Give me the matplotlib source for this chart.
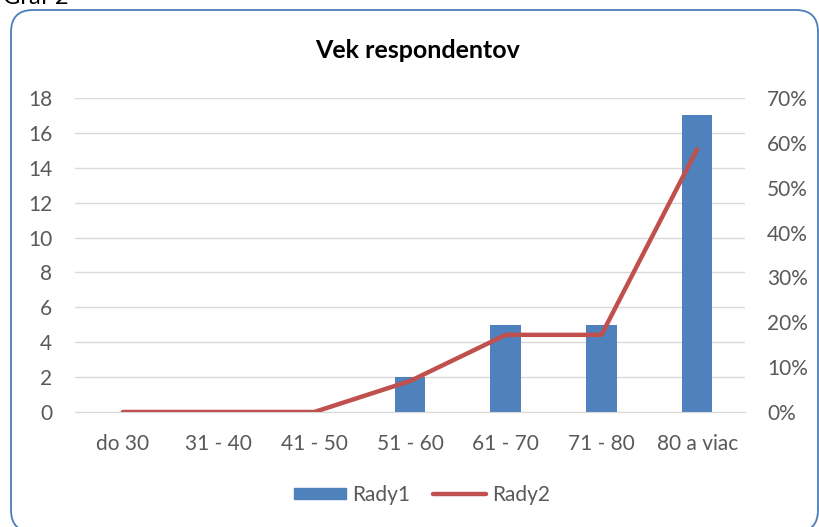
import matplotlib.pyplot as plt
from matplotlib.patches import FancyBboxPatch, Patch
from matplotlib.lines import Line2D
from matplotlib.ticker import PercentFormatter

# data
categories = ["do 30", "31 - 40", "41 - 50", "51 - 60", "61 - 70", "71 - 80", "80 a viac"]
rady1 = [0, 0, 0, 2, 5, 5, 17]
rady2 = [0.0, 0.0, 0.0, 0.069, 0.172, 0.172, 0.586]

blue = "#4F81BD"
red = "#C0504D"
grey = "#595959"
fs = 15

plt.rcParams["font.family"] = ["Lato", "DejaVu Sans"]

fig = plt.figure(figsize=(8.2, 5.27), dpi=100)

# rounded frame around the chart
frame = FancyBboxPatch((11, -5), 807, 522, boxstyle="round,pad=0,rounding_size=22",
                       transform=None, facecolor="none", edgecolor="#4A7EBB",
                       linewidth=1.3, zorder=5)
fig.patches.append(frame)
fig.text(0.004, 1 - 4 / 527, "Graf 2", fontsize=17, va="baseline", color="black")

ax = fig.add_axes([75 / 820, 1 - 412 / 527, 670 / 820, 314 / 527])
ax.set_facecolor("none")
x = list(range(len(categories)))
ax.bar(x, rady1, width=0.32, color=blue, zorder=2)
ax.set_ylim(0, 18)
ax.set_yticks(range(0, 19, 2))
ax.set_xlim(-0.5, len(categories) - 0.5)
ax.set_xticks(x)
ax.set_xticklabels(categories)
ax.grid(axis="y", color="#D9D9D9", linewidth=1, zorder=0)
ax.set_axisbelow(True)
for s in ["top", "right", "left"]:
    ax.spines[s].set_visible(False)
ax.spines["bottom"].set_color("#D9D9D9")
ax.tick_params(axis="both", length=0, labelsize=fs, colors=grey)
ax.tick_params(axis="y", pad=16.5)
ax.tick_params(axis="x", pad=16)

ax2 = ax.twinx()
ax2.plot(x, rady2, color=red, linewidth=3.2, solid_capstyle="round", zorder=3)
ax2.set_ylim(0, 0.7)
ax2.set_yticks([i / 10 for i in range(8)])
ax2.yaxis.set_major_formatter(PercentFormatter(1.0, decimals=0))
for s in ax2.spines.values():
    s.set_visible(False)
ax2.tick_params(axis="y", length=0, labelsize=fs, colors=grey, pad=16)

fig.text(418 / 820, 1 - 50 / 527, "Vek respondentov", ha="center", va="center",
         fontsize=18, fontweight="bold", color="black")

handles = [Patch(color=blue, label="Rady1"),
           Line2D([], [], color=red, linewidth=3.2, solid_capstyle="round", label="Rady2")]
fig.legend(handles=handles, loc="center", bbox_to_anchor=(422 / 820, 1 - 495 / 527),
           ncol=2, frameon=False, fontsize=fs, labelcolor=grey,
           handlelength=2.5, handleheight=0.45, handletextpad=0.3, columnspacing=1.1)

fig.savefig("out.png", dpi=100)
